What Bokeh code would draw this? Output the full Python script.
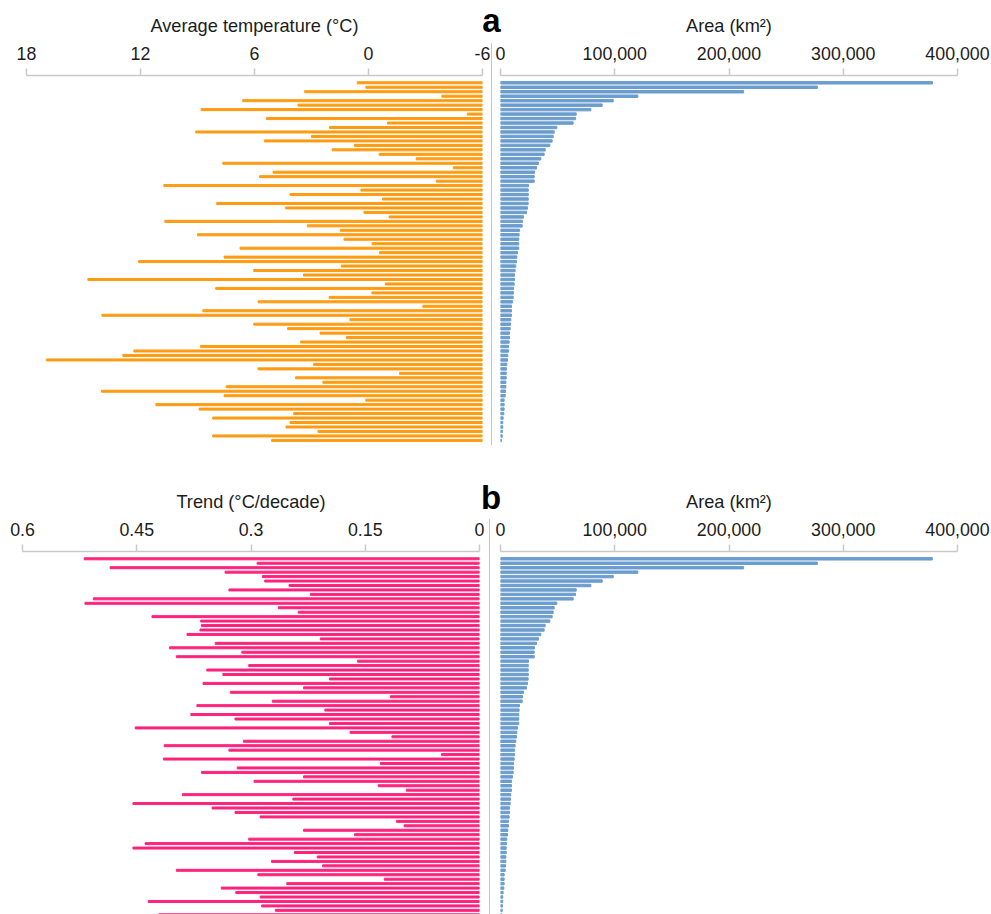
from bokeh.plotting import figure
from bokeh.models import Range1d, FixedTicker, NumeralTickFormatter, CustomJSTickFormatter, ColumnDataSource, Div
from bokeh.layouts import row, column
from bokeh.embed import file_html
from bokeh.resources import INLINE

# ---------------- data (one entry per glacier region, sorted by area) ----------------
temperature = [0.59, 0.14, 3.36, -3.86, 6.62, 3.71, 8.81, -5.2, 5.38, -1.0,
               2.05, 9.09, 3.0, 5.48, 0.75, 1.91, -0.56, -2.51, 7.67, -4.47,
               5.02, 5.73, -3.57, 10.77, 0.4, 4.13, -0.74, 7.99, 4.36, 0.24,
               -1.09, 10.72, 3.22, 1.47, 9.0, 1.29, -0.19, 6.76, -0.58, 7.6,
               12.1, 1.43, 6.04, 3.42, 14.77, -0.89, 8.04, -0.18, 2.07, 5.81,
               -2.86, 8.72, 14.03, 0.98, 6.04, 4.26, 2.55, 1.17, 3.57, 8.84,
               12.35, 12.93, 16.95, 2.89, 5.81, -1.63, 3.84, 2.4, 7.49, 14.05,
               7.6, 0.14, 11.19, 8.91, 3.94, 8.2, 4.13, 4.34, 2.66, 8.2, 5.1]

trend = [0.519, 0.292, 0.485, 0.334, 0.285, 0.282, 0.250, 0.329, 0.222, 0.507,
         0.518, 0.264, 0.238, 0.430, 0.366, 0.365, 0.367, 0.384, 0.209, 0.347,
         0.407, 0.312, 0.398, 0.160, 0.303, 0.358, 0.337, 0.197, 0.363, 0.231,
         0.327, 0.117, 0.272, 0.371, 0.203, 0.379, 0.321, 0.197, 0.452, 0.170,
         0.115, 0.310, 0.414, 0.329, 0.050, 0.415, 0.130, 0.318, 0.365, 0.231,
         0.296, 0.133, 0.096, 0.390, 0.245, 0.455, 0.351, 0.321, 0.288, 0.109,
         0.099, 0.231, 0.164, 0.303, 0.439, 0.455, 0.243, 0.213, 0.273, 0.206,
         0.398, 0.291, 0.125, 0.253, 0.339, 0.320, 0.288, 0.435, 0.286, 0.268, 0.421]

area = [378000, 277300, 212800, 120200, 98700, 89000, 79100, 66300, 65700, 63600,
        49300, 47000, 46100, 45200, 43200, 39100, 38200, 35300, 33300, 31500,
        29800, 29500, 29500, 24500, 24300, 24300, 24300, 24200, 23600, 22800,
        20100, 19300, 19000, 16600, 16300, 16000, 16000, 16000, 14900, 14300,
        14000, 13400, 12800, 12300, 12300, 12000, 11400, 11400, 11100, 10500,
        9600, 9600, 9600, 9000, 8800, 8500, 7900, 7900, 7600, 7000,
        7000, 6400, 6100, 5500, 5300, 5000, 5000, 4700, 4700, 4400,
        4100, 3200, 3200, 3200, 2900, 2300, 2000, 2000, 1700, 1500, 900]

temp_ticks = [18, 12, 6, 0, -6]
trend_ticks = [0.6, 0.45, 0.3, 0.15, 0]
area_ticks = [0, 100000, 200000, 300000, 400000]

temp_title = "Average temperature (°C)"
trend_title = "Trend (°C/decade)"
area_title = "Area (km²)"
panel_a = "a"
panel_b = "b"

rank = list(range(1, len(area) + 1))
src = ColumnDataSource(dict(rank=rank, temperature=temperature, trend=trend, area=area))

# ---------------- styling ----------------
FONT = "Liberation Sans"
TEXT = "#1c1c1c"
AXIS = "#c9c9c9"
SEP = "#c4c4c4"
ORANGE = "#ff9b12"
PINK = "#ff237d"
BLUE = "#6b9dcf"


def style_axis(ax, label, ticks, formatter):
    ax.ticker = FixedTicker(ticks=ticks)
    ax.formatter = formatter
    ax.axis_label = label
    ax.axis_label_text_font = FONT
    ax.axis_label_text_font_size = "18.2px"
    ax.axis_label_text_font_style = "normal"
    ax.axis_label_text_color = TEXT
    ax.axis_label_standoff = 8
    ax.major_label_text_font = FONT
    ax.major_label_text_font_size = "17.8px"
    ax.major_label_text_color = TEXT
    ax.major_label_standoff = 9
    ax.axis_line_color = AXIS
    ax.axis_line_width = 1.5
    ax.major_tick_line_color = AXIS
    ax.major_tick_line_width = 1.5
    ax.major_tick_in = 0
    ax.major_tick_out = 7
    ax.minor_tick_line_color = None


def rank_range(frame_h, first_off, step):
    # rank 1 sits first_off px below the frame top, consecutive ranks step px apart
    top = 1 - first_off / step
    return Range1d(start=top + frame_h / step, end=top)


def panel(width, height, bl, br, bt, xr, yr, margin_left=0, transparent=False):
    p = figure(width=width, height=height, x_range=xr, y_range=yr,
               x_axis_location="above", y_axis_location=None,
               toolbar_location=None, output_backend="svg",
               min_border_left=bl, min_border_right=br,
               min_border_top=bt, min_border_bottom=0,
               margin=(0, 0, 0, margin_left))
    p.outline_line_color = None
    p.xgrid.grid_line_color = None
    p.ygrid.grid_line_color = None
    if transparent:
        p.border_fill_color = None
    return p


def middle(width, height, margin_left, sep_x, sep_top, sep_bottom, label, lab_x, lab_base):
    # transparent strip between the two panels: divider line and panel letter
    size = 33
    top = lab_base - 0.848 * size  # baseline offset inside a line box of height = size
    html = (
        f'<div style="position:relative;width:{width}px;height:{height}px;overflow:visible;">'
        f'<div style="position:absolute;left:{sep_x - 0.8:.1f}px;top:{sep_top}px;'
        f'width:1.6px;height:{sep_bottom - sep_top}px;background:{SEP};"></div>'
        f'<div style="position:absolute;left:{lab_x - 15:.1f}px;top:{top:.1f}px;width:30px;'
        f'text-align:center;font-family:\'{FONT}\';font-weight:bold;font-size:{size}px;'
        f'line-height:{size}px;color:#000;">{label}</div>'
        '</div>'
    )
    return Div(text=html, width=width, height=height, margin=(0, 0, 0, margin_left))


num_fmt = NumeralTickFormatter(format="0,0")
plain_fmt = CustomJSTickFormatter(code="return String(tick);")

# ---------------- top row (a) ----------------
TOP_H, TOP_BT = 478, 75
yr_top = rank_range(TOP_H - TOP_BT, 7.3, 4.47)

tl = panel(490, TOP_H, 26, 8, TOP_BT, Range1d(temp_ticks[0], temp_ticks[-1]), yr_top)
tl.hbar(y="rank", left=temp_ticks[-1], right="temperature", height=0.45,
        color=ORANGE, source=src)
style_axis(tl.xaxis[0], temp_title, temp_ticks, plain_fmt)

mid_top = middle(20, TOP_H, -8, 9.7, 43, 445, panel_a, 9.3, 32)

tr = panel(498, TOP_H, 8, 33, TOP_BT, Range1d(area_ticks[0], area_ticks[-1]), yr_top,
           margin_left=-10, transparent=True)
tr.hbar(y="rank", left=area_ticks[0], right="area", height=0.55, color=BLUE, source=src)
style_axis(tr.xaxis[0], area_title, area_ticks, num_fmt)

top_row = row(tl, mid_top, tr)

# ---------------- bottom row (b) ----------------
BOT_H, BOT_BT = 436, 73
yr_bot = rank_range(BOT_H - BOT_BT, 7.3, 4.45)

bl = panel(490, BOT_H, 22, 11, BOT_BT, Range1d(trend_ticks[0], trend_ticks[-1]), yr_bot)
bl.hbar(y="rank", left=trend_ticks[-1], right="trend", height=0.45,
        color=PINK, source=src)
style_axis(bl.xaxis[0], trend_title, trend_ticks, plain_fmt)

mid_bot = middle(20, BOT_H, -8, 7.3, 41, BOT_H, panel_b, 9.0, 30.5)

br = panel(498, BOT_H, 8, 33, BOT_BT, Range1d(area_ticks[0], area_ticks[-1]), yr_bot,
           margin_left=-10, transparent=True)
br.hbar(y="rank", left=area_ticks[0], right="area", height=0.55, color=BLUE, source=src)
style_axis(br.xaxis[0], area_title, area_ticks, num_fmt)

bot_row = row(bl, mid_bot, br)

layout = column(top_row, bot_row)

open("out.html", "w").write(file_html(layout, INLINE))
